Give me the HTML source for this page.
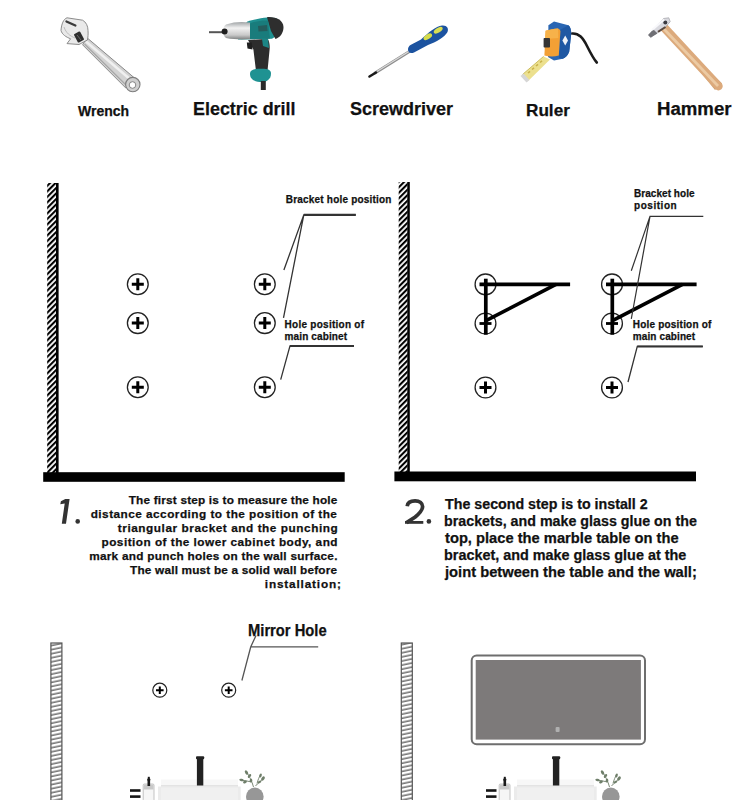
<!DOCTYPE html>
<html><head><meta charset="utf-8"><style>
html,body{margin:0;padding:0;background:#fff;}
body{width:750px;height:800px;position:relative;overflow:hidden;font-family:"Liberation Sans",sans-serif;}
.t{position:absolute;white-space:nowrap;font-weight:bold;transform-origin:0 0;-webkit-text-stroke:0.25px #111;}
svg{position:absolute;left:0;top:0;}
</style></head><body>
<svg width="750" height="800" viewBox="0 0 750 800">
<defs>
<pattern id="h1" patternUnits="userSpaceOnUse" width="3.9" height="3.9" patternTransform="rotate(-45)">
<rect width="3.9" height="3.9" fill="#fff"/><rect width="3.9" height="2.1" fill="#000"/></pattern>
<pattern id="h3" patternUnits="userSpaceOnUse" width="12" height="4" patternTransform="rotate(-12)">
<rect width="12" height="4" fill="#fff"/><rect y="1.5" width="12" height="1.3" fill="#555"/></pattern>
</defs>
<rect x="47.2" y="183" width="9" height="290" fill="url(#h1)"/>
<rect x="56" y="183" width="2.6" height="290" fill="#000"/>
<rect x="43.2" y="472.2" width="301.5" height="9.6" fill="#000"/>
<rect x="398.7" y="182" width="9" height="290" fill="url(#h1)"/>
<rect x="407.3" y="182" width="2.5" height="290" fill="#000"/>
<rect x="394.4" y="471.5" width="301.6" height="9.8" fill="#000"/>
<circle cx="137.8" cy="284.2" r="10.4" fill="none" stroke="#222" stroke-width="1.3"/><path d="M131.8 284.2H143.8M137.8 278.2V290.2" stroke="#000" stroke-width="3.0"/>
<circle cx="137.8" cy="323.1" r="10.4" fill="none" stroke="#222" stroke-width="1.3"/><path d="M131.8 323.1H143.8M137.8 317.1V329.1" stroke="#000" stroke-width="3.0"/>
<circle cx="137.8" cy="387.2" r="10.4" fill="none" stroke="#222" stroke-width="1.3"/><path d="M131.8 387.2H143.8M137.8 381.2V393.2" stroke="#000" stroke-width="3.0"/>
<circle cx="264.8" cy="284.2" r="10.4" fill="none" stroke="#222" stroke-width="1.3"/><path d="M258.8 284.2H270.8M264.8 278.2V290.2" stroke="#000" stroke-width="3.0"/>
<circle cx="264.8" cy="323.1" r="10.4" fill="none" stroke="#222" stroke-width="1.3"/><path d="M258.8 323.1H270.8M264.8 317.1V329.1" stroke="#000" stroke-width="3.0"/>
<circle cx="264.8" cy="387.2" r="10.4" fill="none" stroke="#222" stroke-width="1.3"/><path d="M258.8 387.2H270.8M264.8 381.2V393.2" stroke="#000" stroke-width="3.0"/>
<path d="M355.8 214.8H303.8L283.9 270M303.8 214.8L283.5 317.8" fill="none" stroke="#333" stroke-width="1.3"/>
<path d="M303.8 214.8H355.8" stroke="#333" stroke-width="2.2"/>
<path d="M354 345.9H290L280.7 379.6" fill="none" stroke="#333" stroke-width="1.3"/>
<path d="M290 345.9H354" stroke="#333" stroke-width="2"/>
<circle cx="485.5" cy="284.4" r="10.4" fill="none" stroke="#222" stroke-width="1.3"/>
<circle cx="485.5" cy="323.5" r="10.4" fill="none" stroke="#222" stroke-width="1.3"/>
<path d="M479.5 323.5H491.5" stroke="#000" stroke-width="2.8"/>
<circle cx="485.5" cy="387.5" r="10.4" fill="none" stroke="#222" stroke-width="1.3"/><path d="M479.5 387.5H491.5M485.5 381.5V393.5" stroke="#000" stroke-width="3.0"/>
<path d="M485.8 278.7V334.7" stroke="#000" stroke-width="3.7"/>
<path d="M479.5 284.4H570.1" stroke="#000" stroke-width="3.7"/>
<path d="M556.0 284.4L486.0 320.7" stroke="#000" stroke-width="3.6"/>
<circle cx="612" cy="284.4" r="10.4" fill="none" stroke="#222" stroke-width="1.3"/>
<circle cx="612" cy="323.5" r="10.4" fill="none" stroke="#222" stroke-width="1.3"/>
<path d="M606 323.5H618" stroke="#000" stroke-width="2.8"/>
<circle cx="612" cy="387.5" r="10.4" fill="none" stroke="#222" stroke-width="1.3"/><path d="M606.0 387.5H618.0M612 381.5V393.5" stroke="#000" stroke-width="3.0"/>
<path d="M612.3 278.7V334.7" stroke="#000" stroke-width="3.7"/>
<path d="M606 284.4H696.6" stroke="#000" stroke-width="3.7"/>
<path d="M682.5 284.4L612.5 320.7" stroke="#000" stroke-width="3.6"/>
<path d="M703.3 216.3H650L631.3 270.8M650 216.3L631.3 318.9" fill="none" stroke="#333" stroke-width="1.2"/>
<path d="M702.8 346.4H637.3L628 382" fill="none" stroke="#333" stroke-width="1.3"/>
<path d="M637.3 346.4H702.8" stroke="#333" stroke-width="2"/>
<path d="M65.3 499H69.6L66 523.7H61.8L64.7 503.6L60.3 504.3L60.9 501.3Z" fill="#333"/>
<circle cx="77.7" cy="521.4" r="2.3" fill="#333"/>
<circle cx="428.9" cy="521.4" r="2.3" fill="#333"/>
<path d="M407.2 506.2 C407.6 502 411 500.8 415.1 500.8 C419.6 500.8 422.6 503.3 422.6 506.5 C422.6 510.2 419.8 513.2 415.2 517 L406.6 522.6" fill="none" stroke="#333" stroke-width="3.7"/>
<rect x="405" y="521" width="18.3" height="2.8" fill="#333"/>
<rect x="50.9" y="643" width="11" height="160" fill="url(#h3)" stroke="#555" stroke-width="1.2"/>
<rect x="401.3" y="643" width="11" height="160" fill="url(#h3)" stroke="#555" stroke-width="1.2"/>
<circle cx="159.8" cy="690.2" r="7" fill="none" stroke="#222" stroke-width="1.2"/><path d="M156.0 690.2H163.60000000000002M159.8 686.4000000000001V694.0" stroke="#000" stroke-width="2"/>
<circle cx="228.7" cy="690.2" r="7" fill="none" stroke="#222" stroke-width="1.2"/><path d="M224.89999999999998 690.2H232.5M228.7 686.4000000000001V694.0" stroke="#000" stroke-width="2"/>
<path d="M318.2 646.8H250.7M256 635.5L250.7 647L241.9 680.5" fill="none" stroke="#555" stroke-width="1.3"/>
<rect x="471.7" y="655.6" width="173.3" height="88.6" rx="5" fill="#fff" stroke="#6e6e6e" stroke-width="2"/>
<rect x="475.7" y="660" width="165.2" height="79.6" fill="#7d7a7a"/>
<rect x="555.6" y="727" width="4" height="5" rx="1" fill="#b0b0b0"/>

<defs>
<linearGradient id="gSil" x1="0" y1="0" x2="0" y2="1"><stop offset="0" stop-color="#f4f4f4"/><stop offset="0.5" stop-color="#d9d9d9"/><stop offset="1" stop-color="#9a9a9a"/></linearGradient>
<linearGradient id="gNose" x1="0" y1="0" x2="0" y2="1"><stop offset="0" stop-color="#9ea2a4"/><stop offset="0.35" stop-color="#f2f2f2"/><stop offset="0.75" stop-color="#c9c9c9"/><stop offset="1" stop-color="#7d8080"/></linearGradient>
<linearGradient id="gWood" x1="0" y1="0" x2="1" y2="0"><stop offset="0" stop-color="#c58f5f"/><stop offset="0.45" stop-color="#e9c59c"/><stop offset="1" stop-color="#c99463"/></linearGradient>
</defs>
<!-- wrench -->
<g>
 <path d="M86.8 37.6 L137.8 80.8 L125.8 88 L82.6 44.8 Z" fill="#d2d2d2" stroke="#8a8a8a" stroke-width="1"/>
 <path d="M86 41.5 L131 80" stroke="#f0f0f0" stroke-width="2.6"/>
 <path d="M84.5 44 L127 86" stroke="#a8a8a8" stroke-width="1.2"/>
 <circle cx="132.8" cy="84.6" r="7.2" fill="#cfcfcf" stroke="#7e7e7e" stroke-width="1.1"/>
 <circle cx="132.5" cy="85" r="3.3" fill="#fff" stroke="#7a7a7a" stroke-width="0.9"/>
 <path d="M61 30.4 C61.5 24 63.5 19 67 17.8 L82.6 20.2 C86 22 88 26 88 30.4 C88.3 34 88 37.5 87.4 40 L79 44.5 L67 43.6 L70.6 38.8 C66 37 62 34.5 61 30.4 Z" fill="#e9e9e9" stroke="#8c8c8c" stroke-width="1"/>
 <path d="M64 27 C66 33 70 36 75 38" stroke="#bdbdbd" stroke-width="1" fill="none"/>
 <path d="M66.4 21.4 L75.4 25.6" stroke="#3a3a3a" stroke-width="2.2" stroke-linecap="round"/>
 <rect x="75.5" y="32.2" width="7" height="9.6" rx="1" fill="#2e2e2e" transform="rotate(-28 79 37)"/>
 <path d="M77 35 L81 40" stroke="#777" stroke-width="0.8"/>
</g>
<!-- drill -->
<g>
 <path d="M209 32.2 H224" stroke="#555" stroke-width="2"/>
 <path d="M238 39.5 L240 30 L247.4 21.4 C254 19.5 261 17.8 267.2 17.4 L276 18 C281 21 283 27 281 33 L272 38.8 Z" fill="#1f9090"/>
 <path d="M267 17.2 C276 16.5 283 20 283.5 27 C283.5 33 280 37.5 275.5 39 L271 31 Z" fill="#2e2e2e"/>
 <path d="M250 23.5 C256 21 263 20 268 20.5 L270 38.5 L250 39 Z" fill="#197c7c"/>
 <path d="M258 26 L267 25 L267.5 31 L258.5 31.5 Z" fill="#2a4f4f" opacity="0.7"/>
 <path d="M248 40 L267.8 38.8 C269.5 42 270 46 269.6 49.6 L267.5 71 L256 71 L253.4 49.6 C251.5 46 249.5 43 248 40 Z" fill="#2d2d2d"/>
 <path d="M262 39 L268 39 L269 48 L263 46 Z" fill="#1c8585"/>
 <path d="M246.8 42.4 L251.6 42.4 L252.5 49.6 L247.5 48.5 Z" fill="#1f1f1f"/>
 <path d="M250 74 C250 69 256 68.8 262 68.8 C268 68.8 271 70 271 73.5 C271 79 267 82 262 82 C255 82 250 79.5 250 74 Z" fill="#1f9292"/>
 <path d="M263.3 81 V90" stroke="#2a2a2a" stroke-width="5"/>
 <path d="M226 24.5 C234 21.5 243 21.5 250 22.5 L250 39 C243 39.8 234 39.5 226 38 C222 35 222 27.5 226 24.5 Z" fill="url(#gNose)"/>
 <circle cx="224.6" cy="31.6" r="3" fill="#1e1e1e"/>
</g>
<!-- screwdriver -->
<g>
 <path d="M375 73 L411 50.5" stroke="#8d8d8d" stroke-width="2.8" stroke-linecap="round"/>
 <path d="M376 72 L410 50.7" stroke="#d9d9d9" stroke-width="1.2"/>
 <path d="M369.5 76.5 L376 72.5" stroke="#1a1a1a" stroke-width="2.6" stroke-linecap="round"/>
 <path d="M410.5 45 L421 39.5 C428 33 436 26 442 25.5 C447 25 449 28.5 447.5 32 C445 37 436 42 428 45 L414 52.5 C410 54 408 52 408 49.5 C408 47.5 409 46 410.5 45 Z" fill="#1c53a0"/>
 <ellipse cx="427.8" cy="36.8" rx="4.8" ry="2.4" fill="#d6dc4a" transform="rotate(-32 427.8 36.8)"/>
 <ellipse cx="438.2" cy="30.2" rx="5" ry="2.4" fill="#d9de52" transform="rotate(-32 438.2 30.2)"/>
</g>
<!-- tape measure -->
<g>
 <path d="M522.5 74.5 L543.6 56.4 L550 59.6 L528.4 80.8 Z" fill="#ece08e"/>
 <path d="M522.5 74.5 L543.6 56.4" stroke="#cdbd5f" stroke-width="1"/>
 <path d="M528 73 L530 71.3 M532 69.5 L534 67.8 M536 66 L538 64.3 M540 62.5 L542 60.8" stroke="#c9b24a" stroke-width="1.6"/>
 <path d="M520.5 76 L523.5 73.5 L529.5 80 L526.5 82.5 Z" fill="#d6d6d6"/>
 <path d="M572 33.5 C579 33 583 38 587 46 C591 54 593.5 59 596.8 62.5" fill="none" stroke="#1b1b1b" stroke-width="2.6" stroke-linecap="round"/>
 <path d="M548.4 25.2 L554 21.6 L568.4 25.2 C570.5 27 571.2 30 571.2 34 L569.2 51.6 C568 55 566 57.5 562.8 58.8 L554 60.4 L548 57 Z" fill="#2a66b3"/>
 <path d="M560 30 L568.4 25.2 C570.5 27 571.2 30 571.2 34 L569.2 51.6 C568 55 566 57.5 562.8 58.8 L559 58 Z" fill="#1f58a3"/>
 <path d="M545.6 30.8 C550 29.5 554 28.6 558 28.4 C559.5 29 560.4 30 560.4 31.6 L558.8 55.6 C554 57 549 56.8 544.4 55.6 Z" fill="#f3a035"/>
 <path d="M545.6 30.8 C550 29.5 554 28.6 558 28.4 L558.3 38 L545.2 39 Z" fill="#f7b24a"/>
 <rect x="543.6" y="38" width="6.4" height="9.6" rx="0.8" fill="#353535"/>
 <path d="M565.2 35.5 L568 40.4 L565.2 45.5 L562.4 40.4 Z" fill="#eef2f8"/>
</g>
<!-- hammer -->
<g>
 <path d="M661.5 25 L668.5 30.5 L722 83.5 L715 90 Z" fill="url(#gWood)"/>
 <path d="M664.5 28 L718.5 86.2" stroke="#dcaa7c" stroke-width="8.5" stroke-linecap="round"/>
 <path d="M663.5 28.5 L718 86" stroke="#eccaa3" stroke-width="2.8"/>
 <path d="M648.3 35 L663.5 18.5 L668.8 17.8 L670.2 21.7 L665 27.5 L661.3 29.5 L650.7 37.5 Z" fill="#d9d9df" stroke="#a0a0a6" stroke-width="0.7"/>
 <path d="M648.3 35 L653.5 29.5 L657.5 33.5 L650.7 37.5 Z" fill="#6f6f74"/>
 <path d="M658 31.8 L665.5 27" stroke="#5a4a40" stroke-width="2"/>
 <circle cx="665.3" cy="22.5" r="2" fill="#3a3a40"/>
 <path d="M652 30 L664 19.5" stroke="#f8f8fb" stroke-width="2.2"/>
</g>


<g transform="translate(0 0)">
 <rect x="130" y="789.2" width="10.5" height="2.6" fill="#151515"/>
 <rect x="130" y="795.3" width="10.5" height="2.6" fill="#151515"/>
 <rect x="143.2" y="784" width="10.8" height="17" rx="1.2" fill="#f6f6f6" stroke="#b5b5b5" stroke-width="0.8"/>
 <rect x="144" y="784.5" width="9.5" height="5" fill="#c9c9c9"/>
 <rect x="147.5" y="780" width="2.6" height="6" fill="#1a1a1a"/>
 <circle cx="148.8" cy="779.5" r="1.6" fill="#1a1a1a"/>
 <rect x="147.8" y="776.8" width="2" height="2" fill="#1a1a1a"/>
 <rect x="158" y="786.5" width="82.7" height="14" fill="#ebebeb"/>
 <rect x="161" y="787.5" width="77" height="13" fill="#f0f0f0"/>
 <rect x="161" y="779.5" width="77" height="7" fill="#f7f7f7"/>
 <path d="M161 785.8 H238" stroke="#dcdcdc" stroke-width="1.2"/>
 <rect x="196.9" y="757.8" width="6.4" height="27.7" fill="#222"/>
 <rect x="196" y="756.2" width="8.2" height="3" rx="1" fill="#222"/>
 <path d="M253.5 787 C252 781 249 776 246.5 771.7 M251.5 782 C248 781 244 780.5 240.5 780 M255.5 786 C258 783 261 781 263.6 778.5 M257 783.5 C258 780 259 777 260.5 775" stroke="#7d8a78" stroke-width="1" fill="none"/>
 <ellipse cx="246.5" cy="772.5" rx="1.4" ry="2.4" fill="#6f7f6a" transform="rotate(-30 246.5 772.5)"/>
 <ellipse cx="249.5" cy="776" rx="1.3" ry="2.2" fill="#6f7f6a" transform="rotate(40 249.5 776)"/>
 <ellipse cx="241.5" cy="780" rx="2.2" ry="1.3" fill="#6f7f6a" transform="rotate(10 241.5 780)"/>
 <ellipse cx="245" cy="782" rx="2" ry="1.2" fill="#6f7f6a" transform="rotate(-20 245 782)"/>
 <ellipse cx="251" cy="780.5" rx="1.3" ry="2" fill="#6f7f6a"/>
 <ellipse cx="263" cy="778.5" rx="1.4" ry="2.4" fill="#6f7f6a" transform="rotate(40 263 778.5)"/>
 <ellipse cx="259.5" cy="782" rx="2" ry="1.2" fill="#6f7f6a" transform="rotate(-30 259.5 782)"/>
 <ellipse cx="260.5" cy="775.5" rx="1.2" ry="2" fill="#6f7f6a" transform="rotate(20 260.5 775.5)"/>
 <ellipse cx="254.8" cy="796.5" rx="8.8" ry="9" fill="#979797"/>
</g>

<g transform="translate(356 0)">
 <rect x="130" y="789.2" width="10.5" height="2.6" fill="#151515"/>
 <rect x="130" y="795.3" width="10.5" height="2.6" fill="#151515"/>
 <rect x="143.2" y="784" width="10.8" height="17" rx="1.2" fill="#f6f6f6" stroke="#b5b5b5" stroke-width="0.8"/>
 <rect x="144" y="784.5" width="9.5" height="5" fill="#c9c9c9"/>
 <rect x="147.5" y="780" width="2.6" height="6" fill="#1a1a1a"/>
 <circle cx="148.8" cy="779.5" r="1.6" fill="#1a1a1a"/>
 <rect x="147.8" y="776.8" width="2" height="2" fill="#1a1a1a"/>
 <rect x="158" y="786.5" width="82.7" height="14" fill="#ebebeb"/>
 <rect x="161" y="787.5" width="77" height="13" fill="#f0f0f0"/>
 <rect x="161" y="779.5" width="77" height="7" fill="#f7f7f7"/>
 <path d="M161 785.8 H238" stroke="#dcdcdc" stroke-width="1.2"/>
 <rect x="196.9" y="757.8" width="6.4" height="27.7" fill="#222"/>
 <rect x="196" y="756.2" width="8.2" height="3" rx="1" fill="#222"/>
 <path d="M253.5 787 C252 781 249 776 246.5 771.7 M251.5 782 C248 781 244 780.5 240.5 780 M255.5 786 C258 783 261 781 263.6 778.5 M257 783.5 C258 780 259 777 260.5 775" stroke="#7d8a78" stroke-width="1" fill="none"/>
 <ellipse cx="246.5" cy="772.5" rx="1.4" ry="2.4" fill="#6f7f6a" transform="rotate(-30 246.5 772.5)"/>
 <ellipse cx="249.5" cy="776" rx="1.3" ry="2.2" fill="#6f7f6a" transform="rotate(40 249.5 776)"/>
 <ellipse cx="241.5" cy="780" rx="2.2" ry="1.3" fill="#6f7f6a" transform="rotate(10 241.5 780)"/>
 <ellipse cx="245" cy="782" rx="2" ry="1.2" fill="#6f7f6a" transform="rotate(-20 245 782)"/>
 <ellipse cx="251" cy="780.5" rx="1.3" ry="2" fill="#6f7f6a"/>
 <ellipse cx="263" cy="778.5" rx="1.4" ry="2.4" fill="#6f7f6a" transform="rotate(40 263 778.5)"/>
 <ellipse cx="259.5" cy="782" rx="2" ry="1.2" fill="#6f7f6a" transform="rotate(-30 259.5 782)"/>
 <ellipse cx="260.5" cy="775.5" rx="1.2" ry="2" fill="#6f7f6a" transform="rotate(20 260.5 775.5)"/>
 <ellipse cx="254.8" cy="796.5" rx="8.8" ry="9" fill="#979797"/>
</g>
</svg>
<div class="t" style="left:77.70px;top:103.53px;font-size:14.2px;line-height:14.2px;transform:scaleX(0.9863);color:#111">Wrench</div>
<div class="t" style="left:192.83px;top:100.23px;font-size:18.55px;line-height:18.55px;transform:scaleX(0.9663);color:#111">Electric drill</div>
<div class="t" style="left:350.21px;top:99.60px;font-size:18.12px;line-height:18.12px;transform:scaleX(0.9942);color:#111">Screwdriver</div>
<div class="t" style="left:526.44px;top:102.00px;font-size:16.23px;line-height:16.23px;transform:scaleX(1.0575);color:#111">Ruler</div>
<div class="t" style="left:656.97px;top:99.60px;font-size:18.12px;line-height:18.12px;transform:scaleX(1.0282);color:#111">Hammer</div>
<div class="t" style="left:248.27px;top:622.78px;font-size:15.9px;line-height:15.9px;transform:scaleX(0.9277);color:#111">Mirror Hole</div>
<div class="t" style="left:285.80px;top:195.30px;font-size:10px;line-height:10px;letter-spacing:0.200px;color:#111">Bracket hole position</div>
<div class="t" style="left:284.60px;top:320.30px;font-size:10px;line-height:10px;letter-spacing:0.260px;color:#111">Hole position of</div>
<div class="t" style="left:284.60px;top:331.90px;font-size:10px;line-height:10px;letter-spacing:0.127px;color:#111">main cabinet</div>
<div class="t" style="left:634.00px;top:188.90px;font-size:10px;line-height:10px;letter-spacing:0.045px;color:#111">Bracket hole</div>
<div class="t" style="left:634.00px;top:200.70px;font-size:10px;line-height:10px;letter-spacing:0.543px;color:#111">position</div>
<div class="t" style="left:632.80px;top:319.50px;font-size:10px;line-height:10px;letter-spacing:0.200px;color:#111">Hole position of</div>
<div class="t" style="left:632.80px;top:331.90px;font-size:10px;line-height:10px;letter-spacing:0.109px;color:#111">main cabinet</div>
<div class="t" style="left:128.70px;top:494.97px;font-size:11.8px;line-height:11.8px;letter-spacing:0.189px;color:#111">The first step is to measure the hole</div>
<div class="t" style="left:90.70px;top:508.92px;font-size:11.8px;line-height:11.8px;letter-spacing:0.470px;color:#111">distance according to the position of the</div>
<div class="t" style="left:117.80px;top:522.87px;font-size:11.8px;line-height:11.8px;letter-spacing:0.550px;color:#111">triangular bracket and the punching</div>
<div class="t" style="left:101.50px;top:536.82px;font-size:11.8px;line-height:11.8px;letter-spacing:0.474px;color:#111">position of the lower cabinet body, and</div>
<div class="t" style="left:89.20px;top:550.77px;font-size:11.8px;line-height:11.8px;letter-spacing:0.258px;color:#111">mark and punch holes on the wall surface.</div>
<div class="t" style="left:130.10px;top:564.72px;font-size:11.8px;line-height:11.8px;letter-spacing:0.183px;color:#111">The wall must be a solid wall before</div>
<div class="t" style="left:264.80px;top:578.67px;font-size:11.8px;line-height:11.8px;letter-spacing:0.825px;color:#111">installation;</div>
<div class="t" style="left:445.10px;top:496.98px;font-size:14.5px;line-height:14.5px;transform:scaleX(0.9825);color:#111">The second step is to install 2</div>
<div class="t" style="left:444.12px;top:514.05px;font-size:14.5px;line-height:14.5px;transform:scaleX(0.9836);color:#111">brackets, and make glass glue on the</div>
<div class="t" style="left:445.10px;top:531.13px;font-size:14.5px;line-height:14.5px;transform:scaleX(1.0139);color:#111">top, place the marble table on the</div>
<div class="t" style="left:444.11px;top:548.21px;font-size:14.5px;line-height:14.5px;transform:scaleX(0.9922);color:#111">bracket, and make glass glue at the</div>
<div class="t" style="left:445.10px;top:565.29px;font-size:14.5px;line-height:14.5px;transform:scaleX(1.0150);color:#111">joint between the table and the wall;</div>

</body></html>
